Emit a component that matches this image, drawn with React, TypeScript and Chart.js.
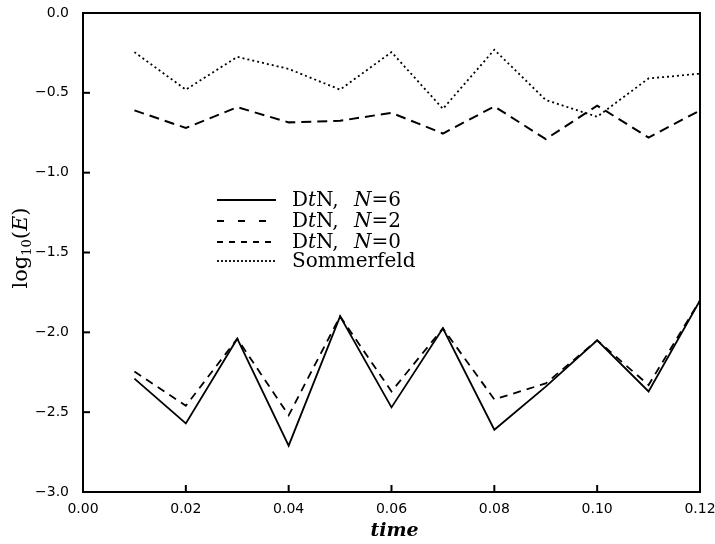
import { useEffect, useRef } from "react";
import { Chart, registerables } from "chart.js";

Chart.register(...registerables);

const times = [0.01, 0.02, 0.03, 0.04, 0.05, 0.06, 0.07, 0.08, 0.09, 0.1, 0.11, 0.12];
const dtnN6 = [-2.29, -2.57, -2.04, -2.71, -1.9, -2.47, -1.975, -2.61, -2.34, -2.05, -2.37, -1.8];
const dtnN2 = [-2.245, -2.46, -2.04, -2.52, -1.9, -2.37, -1.975, -2.42, -2.32, -2.05, -2.33, -1.8];
const dtnN0 = [-0.61, -0.72, -0.59, -0.685, -0.675, -0.625, -0.755, -0.585, -0.79, -0.58, -0.78, -0.61];
const sommerfeld = [-0.245, -0.48, -0.275, -0.35, -0.48, -0.245, -0.6, -0.23, -0.545, -0.65, -0.41, -0.38];
const xTickValues = [0, 0.02, 0.04, 0.06, 0.08, 0.1, 0.12];
const yTickValues = [0, -0.5, -1, -1.5, -2, -2.5, -3];
const legendLabels = [
  ["DtN,", "6"],
  ["DtN,", "2"],
  ["DtN,", "0"],
  ["Sommerfeld", ""],
];

const SERIF = "'DejaVu Serif', serif";
const SANS = "'DejaVu Sans', sans-serif";

const framePlugin = {
  id: "frame",
  afterDatasetsDraw(chart: any) {
    const { ctx, chartArea: a, scales } = chart;
    ctx.save();
    ctx.strokeStyle = "#000";
    ctx.lineWidth = 2;
    ctx.beginPath();
    ctx.moveTo(a.left, a.top);
    ctx.lineTo(a.right, a.top);
    ctx.lineTo(a.right, a.bottom);
    ctx.stroke();
    xTickValues.forEach((v) => {
      const x = scales.x.getPixelForValue(v);
      if (x <= a.left + 2 || x >= a.right - 2) return;
      ctx.beginPath();
      ctx.moveTo(x, a.bottom);
      ctx.lineTo(x, a.bottom - 7);
      ctx.stroke();
    });
    yTickValues.forEach((v) => {
      const y = scales.y.getPixelForValue(v);
      if (y <= a.top + 2 || y >= a.bottom - 2) return;
      ctx.beginPath();
      ctx.moveTo(a.left, y);
      ctx.lineTo(a.left + 7, y);
      ctx.stroke();
    });
    ctx.restore();
  },
};

const titlesPlugin = {
  id: "titles",
  afterDraw(chart: any) {
    const { ctx, chartArea: a } = chart;
    ctx.save();
    ctx.fillStyle = "#000";
    ctx.translate(20, 248);
    ctx.rotate(-Math.PI / 2);
    ctx.textBaseline = "alphabetic";
    const big = `21px ${SERIF}`;
    const small = `13px ${SERIF}`;
    const ital = `italic 21px ${SERIF}`;
    const parts: [string, string, number][] = [
      ["log", big, 0],
      ["10", small, 4],
      ["(", big, 0],
      ["E", ital, 0],
      [")", big, 0],
    ];
    let total = 0;
    parts.forEach(([t, f]) => {
      ctx.font = f;
      total += ctx.measureText(t).width;
    });
    let x = -total / 2;
    parts.forEach(([t, f, dy]) => {
      ctx.font = f;
      ctx.fillText(t, x, 7 + dy);
      x += ctx.measureText(t).width;
    });
    ctx.restore();

    ctx.save();
    ctx.fillStyle = "#000";
    ctx.font = `italic bold 19px ${SERIF}`;
    ctx.textAlign = "center";
    ctx.textBaseline = "alphabetic";
    ctx.fillText("time", (a.left + a.right) / 2 + 3, 536);
    ctx.restore();
  },
};

const legendPlugin = {
  id: "customLegend",
  afterDraw(chart: any) {
    const { ctx } = chart;
    const rows = [200, 221, 242, 261];
    const F = 20;
    chart.data.datasets.forEach((ds: any, i: number) => {
      const y = rows[i];
      ctx.save();
      ctx.strokeStyle = "#000";
      ctx.lineWidth = ds.borderWidth;
      ctx.setLineDash(ds.legendDash || []);
      ctx.beginPath();
      ctx.moveTo(217, y);
      ctx.lineTo(276, y);
      ctx.stroke();
      ctx.setLineDash([]);
      ctx.fillStyle = "#000";
      ctx.textBaseline = "middle";
      const [a, n] = legendLabels[i];
      if (n === "") {
        ctx.font = `${F}px ${SERIF}`;
        ctx.fillText(a, 292, y + 1);
      } else {
        let x = 292;
        ctx.font = `${F}px ${SERIF}`;
        ctx.fillText("D", x, y + 1);
        x += ctx.measureText("D").width;
        ctx.font = `italic ${F}px ${SERIF}`;
        ctx.fillText("t", x, y + 1);
        x += ctx.measureText("t").width;
        ctx.font = `${F}px ${SERIF}`;
        ctx.fillText("N,", x, y + 1);
        x = 354;
        ctx.font = `italic ${F}px ${SERIF}`;
        ctx.fillText("N", x, y + 1);
        x += ctx.measureText("N").width;
        ctx.font = `${F}px ${SERIF}`;
        ctx.fillText("=" + n, x, y + 1);
      }
      ctx.restore();
    });
  },
};

export default function App() {
  const ref = useRef<HTMLCanvasElement | null>(null);
  useEffect(() => {
    document.body.style.margin = "0";
    const canvas = ref.current;
    if (!canvas) return;
    const mk = (ys: number[]) => times.map((t, i) => ({ x: t, y: ys[i] }));
    const chart = new Chart(canvas, {
      type: "line",
      data: {
        datasets: [
          {
            label: "DtN, N=6",
            data: mk(dtnN6),
            borderColor: "#000",
            borderWidth: 1.8,
            pointRadius: 0,
            fill: false,
            tension: 0,
            legendDash: [],
          } as any,
          {
            label: "DtN, N=2",
            data: mk(dtnN2),
            borderColor: "#000",
            borderWidth: 1.8,
            borderDash: [8, 6],
            pointRadius: 0,
            fill: false,
            tension: 0,
            legendDash: [7, 14],
          } as any,
          {
            label: "DtN, N=0",
            data: mk(dtnN0),
            borderColor: "#000",
            borderWidth: 2,
            borderDash: [10, 6],
            pointRadius: 0,
            fill: false,
            tension: 0,
            legendDash: [6, 6],
          } as any,
          {
            label: "Sommerfeld",
            data: mk(sommerfeld),
            borderColor: "#000",
            borderWidth: 1.8,
            borderDash: [2, 3],
            pointRadius: 0,
            fill: false,
            tension: 0,
            legendDash: [2, 2],
          } as any,
        ],
      },
      options: {
        responsive: false,
        animation: false,
        devicePixelRatio: 1,
        layout: { padding: { top: 13, right: 15, left: 0, bottom: 0 } },
        plugins: { legend: { display: false }, tooltip: { enabled: false } },
        scales: {
          x: {
            type: "linear",
            min: 0,
            max: 0.12,
            afterBuildTicks: (s: any) => {
              s.ticks = xTickValues.map((v) => ({ value: v }));
            },
            afterFit: (s: any) => {
              s.height = 52;
              s.paddingLeft = 0;
              s.paddingRight = 0;
            },
            grid: { display: false, drawTicks: false },
            border: { display: true, color: "#000", width: 2 },
            ticks: {
              padding: 9,
              color: "#000",
              maxRotation: 0,
              autoSkip: false,
              font: { family: SANS, size: 14 },
              callback: (v: any) => Number(v).toFixed(2),
            },
          },
          y: {
            type: "linear",
            min: -3,
            max: 0,
            afterBuildTicks: (s: any) => {
              s.ticks = yTickValues.map((v) => ({ value: v }));
            },
            afterFit: (s: any) => {
              s.width = 83;
              s.paddingTop = 0;
              s.paddingBottom = 0;
            },
            grid: { display: false, drawTicks: false },
            border: { display: true, color: "#000", width: 2 },
            ticks: {
              padding: 14,
              color: "#000",
              autoSkip: false,
              font: { family: SANS, size: 14 },
              callback: (v: any) => Number(v).toFixed(1).replace("-", "\u2212"),
            },
          },
        },
      } as any,
      plugins: [framePlugin, titlesPlugin, legendPlugin],
    });
    return () => chart.destroy();
  }, []);
  return (
    <div style={{ width: 715, height: 544 }}>
      <canvas ref={ref} width={715} height={544} />
    </div>
  );
}
